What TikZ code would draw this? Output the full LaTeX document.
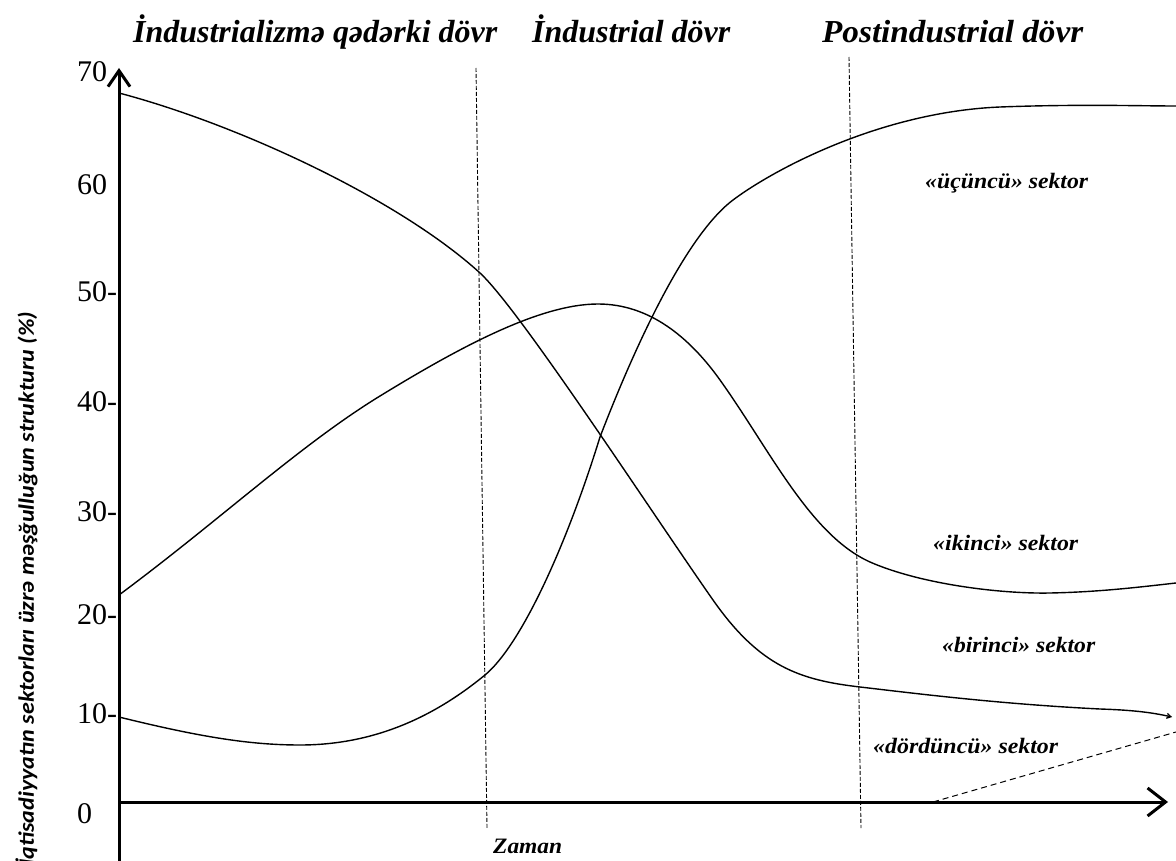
\documentclass[tikz,border=0pt]{standalone}
\usepackage{fontspec}
\setmainfont{Liberation Serif}
\newfontfamily\labelsans{Carlito}
\usetikzlibrary{arrows.meta}
\tikzset{
  axisline/.style={line width=3pt},
  curveline/.style={line width=1.4pt},
  periodline/.style={line width=0.9pt, dash pattern=on 4pt off 2pt},
  quartline/.style={line width=1pt, dash pattern=on 6pt off 4pt},
  ticklab/.style={inner sep=0pt, anchor=west, font=\fontsize{30}{34}\selectfont},
  headlab/.style={inner sep=0pt, anchor=base west, font=\fontsize{32}{36}\selectfont\bfseries\itshape},
  sectlab/.style={inner sep=0pt, anchor=base west, font=\fontsize{22}{26}\selectfont\bfseries\itshape},
}
\begin{document}
\begin{tikzpicture}[x=1pt,y=-1pt]
\useasboundingbox (0,0) rectangle (1176,861);
% axes
\coordinate (ybot) at (119,875);
\coordinate (ytop) at (119,68);
\coordinate (xleft) at (119,802);
\coordinate (xright) at (1168,802);
\draw[axisline, -{Straight Barb[length=16pt,width=22pt,line width=3pt]}] (ybot) -- (ytop);
\draw[axisline, -{Straight Barb[length=18pt,width=28pt,line width=3pt]}] (xleft) -- (xright);
% tick labels
\node[ticklab] (t70) at (77,72) {70};
\node[ticklab] (t60) at (77,185) {60};
\node[ticklab] (t50) at (77,292) {50-};
\node[ticklab] (t40) at (77,402) {40-};
\node[ticklab] (t30) at (77,512) {30-};
\node[ticklab] (t20) at (77,615) {20-};
\node[ticklab] (t10) at (77,714) {10-};
\node[ticklab] (t0) at (77,814) {0};
% period separators
\coordinate (p1top) at (476,68);
\coordinate (p1bot) at (487,828);
\coordinate (p2top) at (849,57);
\coordinate (p2bot) at (861,828);
\draw[periodline] (p1top) -- (p1bot);
\draw[periodline] (p2top) -- (p2bot);
% headings
\node[headlab] (h1) at (133,43) {\resizebox{364pt}{\height}{İndustrializmə qədərki dövr}};
\node[headlab] (h2) at (532,43) {\resizebox{198pt}{\height}{İndustrial dövr}};
\node[headlab] (h3) at (822,43) {\resizebox{261pt}{\height}{Postindustrial dövr}};
% primary sector
\draw[curveline, -{Straight Barb[length=4pt,width=5pt]}]
  (119,93) .. controls (240,125) and (400,200) .. (480,273)
  .. controls (520,310) and (650,510) .. (713,600)
  .. controls (760,667) and (800,680) .. (860,687)
  .. controls (920,694) and (1000,704) .. (1100,709)
  .. controls (1130,710) and (1150,712) .. (1172,717);
% secondary sector
\draw[curveline]
  (119,595) .. controls (220,520) and (300,445) .. (380,396)
  .. controls (460,347) and (540,304) .. (598,304)
  .. controls (650,304) and (690,338) .. (720,380)
  .. controls (770,450) and (810,535) .. (870,562)
  .. controls (920,584) and (1000,594) .. (1050,593)
  .. controls (1100,592) and (1140,587) .. (1176,583);
% tertiary sector
\draw[curveline]
  (119,717) .. controls (200,737) and (250,745) .. (300,745)
  .. controls (380,745) and (440,712) .. (485,675)
  .. controls (520,646) and (565,550) .. (600,437)
  .. controls (625,372) and (680,240) .. (733,200)
  .. controls (773,170) and (880,112) .. (1000,107)
  .. controls (1080,104) and (1140,106) .. (1176,106);
% quaternary sector
\coordinate (q1) at (933,802);
\coordinate (q2) at (1176,732);
\draw[quartline] (q1) -- (q2);
% sector labels
\node[sectlab] (s3) at (925,189) {\resizebox{163pt}{\height}{«üçüncü» sektor}};
\node[sectlab] (s2) at (933,550) {\resizebox{145pt}{\height}{«ikinci» sektor}};
\node[sectlab] (s1) at (942,652) {\resizebox{153pt}{\height}{«birinci» sektor}};
\node[sectlab] (s4) at (873,753) {\resizebox{185pt}{\height}{«dördüncü» sektor}};
\node[sectlab] (zaman) at (493,853) {\resizebox{69pt}{\height}{Zaman}};
% y-axis title
\node[inner sep=0pt, anchor=base west, rotate=90, font=\labelsans\fontsize{22}{26}\selectfont\bfseries\itshape] (ytitle) at (34,866)
  {\resizebox{554pt}{\height}{İqtisadiyyatın sektorları üzrə məşğulluğun strukturu (\%)}};
\end{tikzpicture}
\end{document}
